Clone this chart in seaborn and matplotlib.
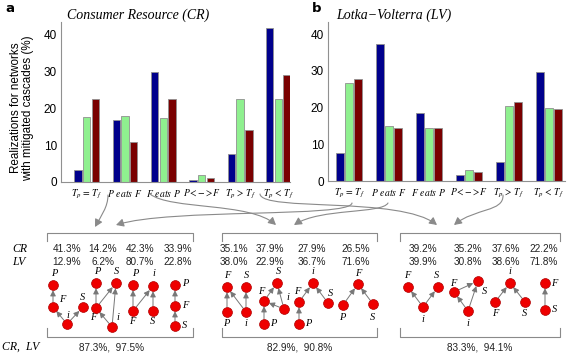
import numpy as np
import pandas as pd
import matplotlib
matplotlib.use('Agg')
import matplotlib.pyplot as plt
import seaborn as sns
from matplotlib.patches import FancyArrowPatch
from matplotlib.path import Path

# categories on the x axis of both panels
categories = [r'$T_p\,=\,T_f$', r'$P$ $eats$ $F$', r'$F$ $eats$ $P$',
              r'$P\!<\!-\!>\!F$', r'$T_p\,>\,T_f$', r'$T_p\,<\,T_f$']
series = ['s1', 's2', 's3']

# Consumer Resource (CR) values, %
cr_s1 = [3.2, 16.9, 29.9, 0.5, 7.5, 41.7]
cr_s2 = [17.6, 17.9, 17.3, 1.8, 22.4, 22.4]
cr_s3 = [22.4, 10.8, 22.4, 1.1, 14.0, 28.9]

# Lotka-Volterra (LV) values, %
lv_s1 = [7.6, 37.3, 18.5, 1.5, 5.3, 29.7]
lv_s2 = [26.8, 15.1, 14.5, 2.9, 20.5, 19.8]
lv_s3 = [27.9, 14.3, 14.3, 2.5, 21.5, 19.6]

# motif percentages in the three boxes
cr_pct = [[41.3, 14.2, 42.3, 33.9], [35.1, 37.9, 27.9, 26.5], [39.2, 35.2, 37.6, 22.2]]
lv_pct = [[12.9, 6.2, 80.7, 22.8], [38.0, 22.9, 36.7, 71.6], [39.9, 30.8, 38.6, 71.8]]
totals = [(87.3, 97.5), (82.9, 90.8), (83.3, 94.1)]

palette = {'s1': '#00008c', 's2': '#8ff08f', 's3': '#7a0000'}

plt.rcParams['mathtext.fontset'] = 'stix'
W, H = 570, 354
fig = plt.figure(figsize=(W / 100, H / 100), dpi=100)


def long_df(a, b, c):
    rows = []
    for s, vals in zip(series, [a, b, c]):
        for cat, v in zip(categories, vals):
            rows.append({'cat': cat, 'series': s, 'value': v})
    return pd.DataFrame(rows)


def bar_panel(rect, df, xlim, title, title_x):
    ax = fig.add_axes(rect)
    sns.barplot(data=df, x='cat', y='value', hue='series', palette=palette,
                order=categories, hue_order=series, width=0.68, gap=0.15,
                edgecolor='#909090', linewidth=0.6, saturation=1, ax=ax, legend=False)
    ax.set_xlim(*xlim)
    ax.set_ylim(0, 43.3)
    ax.set_yticks([0, 10, 20, 30, 40])
    ax.set_xlabel('')
    ax.set_ylabel('')
    for s in ['top', 'right']:
        ax.spines[s].set_visible(False)
    for s in ['left', 'bottom']:
        ax.spines[s].set_color('#909090')
        ax.spines[s].set_linewidth(0.8)
    ax.tick_params(axis='y', length=0, labelsize=8.5, pad=3)
    ax.tick_params(axis='x', length=0, labelsize=6.9, pad=4)
    for t in ax.get_yticklabels():
        t.set_fontfamily('Liberation Sans')
    ax.patch.set_visible(False)
    fig.text(title_x / W, 1 - 15 / H, title, family='Liberation Serif',
             style='italic', fontsize=10, va='center', ha='left')
    return ax


bar_panel([61 / W, 1 - 182 / H, 229 / W, 160 / H], long_df(cr_s1, cr_s2, cr_s3),
          (-0.67, 5.3), 'Consumer Resource (CR)', 67)
bar_panel([328 / W, 1 - 181 / H, 237 / W, 159 / H], long_df(lv_s1, lv_s2, lv_s3),
          (-0.53, 5.4), 'Lotka\u2212Volterra (LV)', 336)

fig.text(5 / W, 1 - 8 / H, 'a', fontsize=9.5, fontweight='bold', va='center')
fig.text(312 / W, 1 - 8 / H, 'b', fontsize=9.5, fontweight='bold', va='center')
fig.text(22 / W, 1 - 108 / H, 'Realizations for networks\nwith mitigated cascades (%)',
         rotation=90, ha='center', va='center', fontsize=8.4, family='Liberation Sans',
         linespacing=1.0)

# overlay in pixel coordinates for the lower diagram part
ov = fig.add_axes([0, 0, 1, 1])
ov.set_xlim(0, W)
ov.set_ylim(H, 0)
ov.axis('off')

grey = '#8a8a8a'

# curved arrows from the tick labels to the boxes (cubic bezier: start, c1, c2, end)
arrows = [
    [(108, 195), (108, 207), (101, 216), (95, 227)],
    [(352, 203), (350, 218), (170, 208), (116, 225)],
    [(150, 194), (170, 210), (250, 202), (276, 225)],
    [(388, 203), (382, 214), (320, 208), (294, 225)],
    [(260, 194), (262, 212), (400, 196), (437, 225)],
    [(503, 195), (504, 212), (475, 208), (454, 225)],
]
for pts in arrows:
    path = Path(pts, [Path.MOVETO, Path.CURVE4, Path.CURVE4, Path.CURVE4])
    ov.add_patch(FancyArrowPatch(path=path,
                                 arrowstyle='-|>,head_length=3,head_width=1.6',
                                 color=grey, lw=0.8, mutation_scale=1.5))

# bracket boxes
boxes = [(47, 193), (222, 377), (400, 560)]
for x0, x1 in boxes:
    ov.plot([x0, x0, x1, x1], [241, 233, 233, 241], color=grey, lw=0.8)
    ov.plot([x0, x0, x1, x1], [328, 337, 337, 328], color=grey, lw=0.8)

pct_x = [[67, 103, 140, 178], [234, 270, 312, 356], [423, 468, 506, 544]]
for b in range(3):
    for k in range(4):
        ov.text(pct_x[b][k], 249, f'{cr_pct[b][k]:.1f}%', ha='center', va='center',
                fontsize=7.2, family='Liberation Sans', color='#222222')
        ov.text(pct_x[b][k], 262, f'{lv_pct[b][k]:.1f}%', ha='center', va='center',
                fontsize=7.2, family='Liberation Sans', color='#222222')
    cx = (boxes[b][0] + boxes[b][1]) / 2 + (-8 if b == 0 else 0)
    ov.text(cx, 347, f'{totals[b][0]:.1f}%,  {totals[b][1]:.1f}%', ha='center',
            va='center', fontsize=7.2, family='Liberation Sans', color='#222222')

for lab, y in [('CR', 249), ('LV', 262)]:
    ov.text(12, y, lab, ha='left', va='center', fontsize=8.5,
            family='Liberation Serif', style='italic')
ov.text(2, 347, 'CR,  LV', ha='left', va='center', fontsize=8.5,
        family='Liberation Serif', style='italic')

# network motifs: node positions, edges (source -> target), label positions
motifs = [
    ({'P': (53, 285), 'F': (53, 307), 'i': (67, 324), 'S': (83, 307)},
     [('F', 'P'), ('i', 'F'), ('i', 'S')],
     {'P': (54, 273), 'F': (62, 299), 'i': (68, 315), 'S': (83, 297)}),
    ({'P': (96, 283), 'S': (116, 283), 'F': (96, 308), 'i': (112, 327)},
     [('F', 'P'), ('F', 'S'), ('i', 'F'), ('i', 'S')],
     {'P': (97, 272), 'S': (117, 272), 'F': (93, 318), 'i': (118, 317)}),
    ({'P': (133, 285), 'i': (153, 286), 'F': (133, 311), 'S': (153, 311)},
     [('F', 'P'), ('F', 'i'), ('S', 'i')],
     {'P': (135, 274), 'i': (154, 274), 'F': (132, 322), 'S': (153, 322)}),
    ({'P': (175, 285), 'F': (175, 306), 'S': (175, 326)},
     [('F', 'P'), ('S', 'F')],
     {'P': (185, 284), 'F': (185, 306), 'S': (185, 325)}),
    ({'F': (227, 287), 'S': (246, 287), 'P': (227, 312), 'i': (246, 312)},
     [('P', 'F'), ('i', 'S'), ('i', 'F')],
     {'F': (227, 275), 'S': (247, 275), 'P': (226, 324), 'i': (246, 324)}),
    ({'S': (277, 283), 'F': (264, 301), 'i': (284, 309), 'P': (264, 324)},
     [('F', 'S'), ('i', 'F'), ('i', 'S'), ('P', 'F')],
     {'S': (278, 272), 'F': (261, 292), 'i': (288, 298), 'P': (273, 324)}),
    ({'i': (313, 283), 'F': (299, 302), 'P': (299, 324), 'S': (328, 303)},
     [('F', 'i'), ('S', 'i'), ('P', 'F')],
     {'i': (313, 272), 'F': (297, 292), 'P': (308, 324), 'S': (330, 293)}),
    ({'F': (358, 284), 'P': (343, 305), 'S': (373, 304)},
     [('P', 'F'), ('S', 'F')],
     {'F': (358, 273), 'P': (342, 318), 'S': (373, 318)}),
    ({'F': (408, 287), 'S': (438, 287), 'i': (423, 307)},
     [('i', 'F'), ('i', 'S')],
     {'F': (407, 276), 'S': (437, 276), 'i': (423, 319)}),
    ({'F': (454, 292), 'S': (478, 281), 'i': (468, 311)},
     [('F', 'S'), ('i', 'F'), ('i', 'S')],
     {'F': (453, 283), 'S': (484, 292), 'i': (468, 323)}),
    ({'i': (510, 283), 'F': (495, 302), 'S': (525, 302)},
     [('F', 'i'), ('S', 'i')],
     {'i': (510, 272), 'F': (495, 314), 'S': (525, 314)}),
    ({'F': (545, 283), 'S': (545, 310)},
     [('S', 'F')],
     {'F': (554, 283), 'S': (554, 310)}),
]
for nodes, edges, labels in motifs:
    for a, b in edges:
        ov.add_patch(FancyArrowPatch(nodes[a], nodes[b], shrinkA=3.5, shrinkB=3.8,
                                     arrowstyle='-|>,head_length=2.2,head_width=1.1',
                                     color='#777777', lw=0.7, mutation_scale=1.5))
    xs = [p[0] for p in nodes.values()]
    ys = [p[1] for p in nodes.values()]
    ov.scatter(xs, ys, s=50, color='#ee0000', edgecolor='#b00000', linewidth=0.5, zorder=5)
    for k, (lx, ly) in labels.items():
        ov.text(lx, ly, k, ha='center', va='center', fontsize=7.5,
                family='Liberation Serif', style='italic')

fig.savefig('out.png', dpi=100)
